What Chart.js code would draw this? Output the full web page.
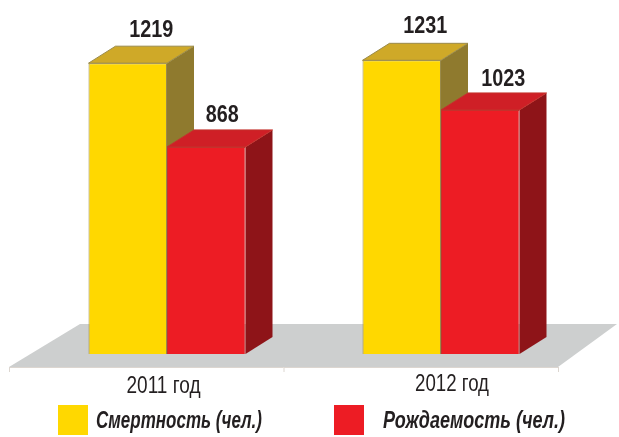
<!DOCTYPE html>
<html lang="ru">
<head>
<meta charset="utf-8">
<title>Смертность и рождаемость</title>
<script src="https://cdn.jsdelivr.net/npm/chart.js@4"></script>
<style>
    html, body { margin: 0; padding: 0; background: #fff; }
    canvas { display: block; }
</style>
</head>
<body>
<canvas id="chart" width="619" height="437"></canvas>
<script>
// Данные
const years = ['2011 год', '2012 год'];
const deaths = [1219, 1231];
const births = [868, 1023];
const deathsLabel = 'Смертность (чел.)';
const birthsLabel = 'Рождаемость (чел.)';

const FONT = '"Liberation Sans", sans-serif';
const INK = '#231f20';

// Цвета граней: передняя, верх, бок
const faces = [
    { front: '#ffd800', top: '#cfa928', side: '#8f7a2e', edge: '#9a8a4a' },
    { front: '#ed1c24', top: '#cf1f26', side: '#8e1418', edge: '#c4322c' }
];

// Глубина псевдо-3D
const DEPTH_X = 27;
const DEPTH_Y = -17;

// Смещения подписей относительно верха столбика: [серия][год]
const valueNudge = [
    [[23.5, -26], [23.5, -27]],
    [[16, -25], [23, -24]]
];
// Подписи лет: смещение от центра категории и базовая линия
const yearNudge = [[-3.5, 393], [11, 391]];
// Легенда: левый край квадрата, начало текста, ширина текста
const legendPos = [
    { box: 58, text: 96, width: 166 },
    { box: 334, text: 383, width: 182 }
];

function polygon(ctx, points, fill, stroke) {
    ctx.beginPath();
    points.forEach((p, i) => (i ? ctx.lineTo(p[0], p[1]) : ctx.moveTo(p[0], p[1])));
    ctx.closePath();
    ctx.fillStyle = fill;
    ctx.fill();
    if (stroke) {
        ctx.strokeStyle = stroke;
        ctx.lineWidth = 1;
        ctx.stroke();
    }
}

const box3d = {
    id: 'box3d',
    beforeDatasetsDraw(chart) {
        const { ctx, chartArea, scales } = chart;
        const base = scales.y.getPixelForValue(0);
        const left = chartArea.left - 21;
        const right = chartArea.right - 20;
        const front = base + 13;

        // Пол
        polygon(ctx, [
            [left, front], [right, front],
            [right + 59, front - 43], [left + 71, front - 43]
        ], '#cdcfcf');

        // Линия под полом с засечками
        ctx.strokeStyle = '#dcd6d0';
        ctx.lineWidth = 1;
        ctx.beginPath();
        ctx.moveTo(left, front + 0.5);
        ctx.lineTo(right, front + 0.5);
        [left, (left + right) / 2, right].forEach(x => {
            ctx.moveTo(x + 0.5, front);
            ctx.lineTo(x + 0.5, front + 5);
        });
        ctx.stroke();

        // Бока и крышки столбиков
        chart.data.datasets.forEach((ds, d) => {
            chart.getDatasetMeta(d).data.forEach(bar => {
                const x0 = bar.x - bar.width / 2;
                const x1 = bar.x + bar.width / 2;
                const c = faces[d];
                polygon(ctx, [
                    [x1, bar.y], [x1 + DEPTH_X, bar.y + DEPTH_Y],
                    [x1 + DEPTH_X, bar.base + DEPTH_Y], [x1, bar.base]
                ], c.side);
                polygon(ctx, [
                    [x0, bar.y], [x0 + DEPTH_X, bar.y + DEPTH_Y],
                    [x1 + DEPTH_X, bar.y + DEPTH_Y], [x1, bar.y]
                ], c.top, c.edge);
            });
        });
    },
    afterDatasetsDraw(chart) {
        const { ctx, scales } = chart;
        ctx.save();
        ctx.textBaseline = 'alphabetic';
        ctx.fillStyle = INK;

        // Значения над столбиками (шрифт узкий, ужимаем через maxWidth)
        ctx.font = 'bold 24px ' + FONT;
        ctx.textAlign = 'center';
        chart.data.datasets.forEach((ds, d) => {
            chart.getDatasetMeta(d).data.forEach((bar, i) => {
                const n = valueNudge[d][i];
                const text = String(ds.data[i]);
                ctx.fillText(text, bar.x + n[0], bar.y + n[1], text.length * 11);
            });
        });

        // Подписи оси X
        ctx.font = '23px ' + FONT;
        chart.data.labels.forEach((label, i) => {
            ctx.fillText(label, scales.x.getPixelForValue(i) + yearNudge[i][0], yearNudge[i][1], 74);
        });

        // Легенда
        ctx.textAlign = 'left';
        ctx.font = 'italic bold 24px ' + FONT;
        chart.data.datasets.forEach((ds, d) => {
            ctx.fillStyle = ds.backgroundColor;
            ctx.fillRect(legendPos[d].box, 405, 30, 30);
            ctx.fillStyle = INK;
            ctx.fillText(ds.label, legendPos[d].text, 428, legendPos[d].width);
        });
        ctx.restore();
    }
};

new Chart(document.getElementById('chart'), {
    type: 'bar',
    data: {
        labels: years,
        datasets: [
            {
                label: deathsLabel,
                data: deaths,
                backgroundColor: faces[0].front,
                borderColor: faces[0].edge,
                borderWidth: 1
            },
            {
                label: birthsLabel,
                data: births,
                backgroundColor: faces[1].front,
                borderColor: faces[1].edge,
                borderWidth: 1
            }
        ]
    },
    options: {
        responsive: false,
        animation: false,
        layout: { padding: { left: 30, right: 41, top: 20, bottom: 83 } },
        datasets: { bar: { categoryPercentage: 0.573, barPercentage: 1 } },
        plugins: {
            tooltip: { enabled: false },
            legend: { display: false }
        },
        scales: {
            x: { display: false },
            y: { display: false, min: 0, max: 1400 }
        }
    },
    plugins: [box3d]
});
</script>
</body>
</html>
